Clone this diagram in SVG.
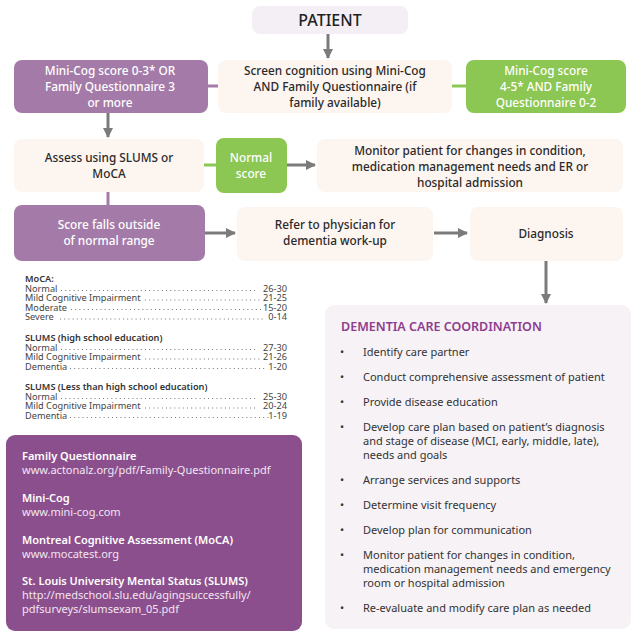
<svg xmlns="http://www.w3.org/2000/svg" width="635" height="634" viewBox="0 0 635 634">
<defs>
<marker id="ah" viewBox="0 0 10 10" refX="9" refY="5" markerWidth="3.4" markerHeight="3.4" orient="auto" markerUnits="strokeWidth">
<path d="M0,0 L10,5 L0,10 z" fill="#7b7b7b"/>
</marker>
<style>
text{font-family:"Noto Sans","DejaVu Sans",sans-serif;}
.cream{fill:#fdf5f0;}
.purple{fill:#a47ba8;}
.green{fill:#8cc653;}
.lav{fill:#f3eff5;}
.t{font-size:11.8px;fill:#2a2a2a;font-weight:500;text-anchor:middle;}
.w{font-size:11.8px;fill:#ffffff;font-weight:500;text-anchor:middle;}
.arr{stroke:#7b7b7b;stroke-width:3;fill:none;marker-end:url(#ah);}
.lp{stroke:#a47ba8;stroke-width:3;fill:none;}
.lg{stroke:#8cc653;stroke-width:3;fill:none;}
.tb{font-size:9.2px;fill:#444;}
.tbh{font-size:9.2px;fill:#333;font-weight:600;}
.tv{font-size:9.2px;fill:#444;text-anchor:end;}
.dots{stroke:#777;stroke-width:1;stroke-dasharray:1 3.2;}
.rh{font-size:11px;fill:#fff;font-weight:600;}
.ru{font-size:11px;fill:#f1e6f1;}
.li{font-size:11px;fill:#333;}
.bu{font-size:11px;fill:#333;}
</style>
</defs>
<rect width="635" height="634" fill="#ffffff"/>

<g id="connectors">
<line class="arr" x1="328" y1="34" x2="328" y2="58"/>
<line class="lp" x1="205" y1="86" x2="220" y2="86"/>
<line class="lg" x1="450" y1="86" x2="468" y2="86"/>
<line class="arr" x1="108" y1="112" x2="108" y2="137"/>
<line class="lg" x1="203" y1="165" x2="217" y2="165"/>
<line class="arr" x1="287" y1="165" x2="315" y2="165"/>
<line class="lp" x1="108" y1="192" x2="108" y2="207"/>
<line class="arr" x1="205" y1="233" x2="235" y2="233"/>
<line class="arr" x1="434" y1="233" x2="467" y2="233"/>
<line class="arr" x1="546" y1="260" x2="546" y2="303"/>
</g>

<g id="patient">
<rect class="lav" x="252" y="6" width="156" height="28" rx="8"/>
<text x="330" y="26" text-anchor="middle" font-size="16" font-weight="500" fill="#222">PATIENT</text>
</g>

<g id="minicog-low">
<rect class="purple" x="14" y="60" width="194" height="53" rx="8"/>
<text class="w" x="110" y="74.5">Mini-Cog score 0-3* OR</text>
<text class="w" x="110" y="90.5">Family Questionnaire 3</text>
<text class="w" x="110" y="106.5">or more</text>
</g>

<g id="screen">
<rect class="cream" x="218" y="60" width="234" height="53" rx="8"/>
<text class="t" x="335" y="74.5">Screen cognition using Mini-Cog</text>
<text class="t" x="335" y="90.5">AND Family Questionnaire (if</text>
<text class="t" x="335" y="106.5">family available)</text>
</g>

<g id="minicog-high">
<rect class="green" x="466" y="60" width="160" height="53" rx="8"/>
<text class="w" x="546" y="74.5">Mini-Cog score</text>
<text class="w" x="546" y="90.5">4-5* AND Family</text>
<text class="w" x="546" y="106.5">Questionnaire 0-2</text>
</g>

<g id="assess">
<rect class="cream" x="14" y="139" width="190" height="53" rx="8"/>
<text class="t" x="109" y="161.5">Assess using SLUMS or</text>
<text class="t" x="109" y="177.5">MoCA</text>
</g>

<g id="normal">
<rect class="green" x="216" y="138" width="71" height="55" rx="8"/>
<text class="w" x="251" y="161.5">Normal</text>
<text class="w" x="251" y="177.5">score</text>
</g>

<g id="monitor">
<rect class="cream" x="317" y="139" width="306" height="53" rx="8"/>
<text class="t" x="470" y="155">Monitor patient for changes in condition,</text>
<text class="t" x="470" y="171">medication management needs and ER or</text>
<text class="t" x="470" y="187">hospital admission</text>
</g>

<g id="outside">
<rect class="purple" x="14" y="205" width="191" height="56" rx="8"/>
<text class="w" x="109" y="229">Score falls outside</text>
<text class="w" x="109" y="245">of normal range</text>
</g>

<g id="refer">
<rect class="cream" x="237" y="207" width="196" height="54" rx="8"/>
<text class="t" x="335" y="229">Refer to physician for</text>
<text class="t" x="335" y="245">dementia work-up</text>
</g>

<g id="diagnosis">
<rect class="cream" x="470" y="207" width="153" height="54" rx="8"/>
<text class="t" x="546" y="238">Diagnosis</text>
</g>

<g id="scores">
<text class="tbh" x="25" y="282">MoCA:</text>
<text class="tb" x="25" y="291.5">Normal</text><line class="dots" x1="61" y1="290.5" x2="256" y2="290.5"/><text class="tv" x="287" y="291.5">26-30</text>
<text class="tb" x="25" y="301">Mild Cognitive Impairment</text><line class="dots" x1="145" y1="300" x2="261" y2="300"/><text class="tv" x="287" y="301">21-25</text>
<text class="tb" x="25" y="310.5">Moderate</text><line class="dots" x1="71" y1="309.5" x2="261" y2="309.5"/><text class="tv" x="287" y="310.5">15-20</text>
<text class="tb" x="25" y="320">Severe</text><line class="dots" x1="60" y1="319" x2="265" y2="319"/><text class="tv" x="287" y="320">0-14</text>

<text class="tbh" x="25" y="341">SLUMS (high school education)</text>
<text class="tb" x="25" y="350.5">Normal</text><line class="dots" x1="61" y1="349.5" x2="258" y2="349.5"/><text class="tv" x="287" y="350.5">27-30</text>
<text class="tb" x="25" y="360">Mild Cognitive Impairment</text><line class="dots" x1="145" y1="359" x2="260" y2="359"/><text class="tv" x="287" y="360">21-26</text>
<text class="tb" x="25" y="369.5">Dementia</text><line class="dots" x1="70" y1="368.5" x2="267" y2="368.5"/><text class="tv" x="287" y="369.5">1-20</text>

<text class="tbh" x="25" y="390">SLUMS (Less than high school education)</text>
<text class="tb" x="25" y="399.5">Normal</text><line class="dots" x1="61" y1="398.5" x2="258" y2="398.5"/><text class="tv" x="287" y="399.5">25-30</text>
<text class="tb" x="25" y="409">Mild Cognitive Impairment</text><line class="dots" x1="145" y1="408" x2="258" y2="408"/><text class="tv" x="287" y="409">20-24</text>
<text class="tb" x="25" y="418.5">Dementia</text><line class="dots" x1="70" y1="417.5" x2="269" y2="417.5"/><text class="tv" x="287" y="418.5">1-19</text>
</g>

<g id="resources">
<rect x="6" y="435" width="296" height="196" rx="9" fill="#8c4f8d"/>
<text class="rh" x="22" y="460">Family Questionnaire</text>
<text class="ru" x="22" y="474">www.actonalz.org/pdf/Family-Questionnaire.pdf</text>
<text class="rh" x="22" y="502">Mini-Cog</text>
<text class="ru" x="22" y="516">www.mini-cog.com</text>
<text class="rh" x="22" y="544">Montreal Cognitive Assessment (MoCA)</text>
<text class="ru" x="22" y="558">www.mocatest.org</text>
<text class="rh" x="22" y="585">St. Louis University Mental Status (SLUMS)</text>
<text class="ru" x="22" y="599">http://medschool.slu.edu/agingsuccessfully/</text>
<text class="ru" x="22" y="613">pdfsurveys/slumsexam_05.pdf</text>
</g>

<g id="dementia-care">
<rect x="325" y="305" width="306" height="324" rx="9" fill="#f6f2f6"/>
<text x="341" y="331" font-size="12.5" font-weight="600" fill="#8e3c8e">DEMENTIA CARE COORDINATION</text>
<g class="bu">
<text x="340" y="356">•</text>
<text x="340" y="381">•</text>
<text x="340" y="406">•</text>
<text x="340" y="431">•</text>
<text x="340" y="484">•</text>
<text x="340" y="509">•</text>
<text x="340" y="534">•</text>
<text x="340" y="559">•</text>
<text x="340" y="612">•</text>
</g>
<text class="li" x="363" y="356">Identify care partner</text>
<text class="li" x="363" y="381">Conduct comprehensive assessment of patient</text>
<text class="li" x="363" y="406">Provide disease education</text>
<text class="li" x="363" y="431">Develop care plan based on patient’s diagnosis</text>
<text class="li" x="363" y="445">and stage of disease (MCI, early, middle, late),</text>
<text class="li" x="363" y="459">needs and goals</text>
<text class="li" x="363" y="484">Arrange services and supports</text>
<text class="li" x="363" y="509">Determine visit frequency</text>
<text class="li" x="363" y="534">Develop plan for communication</text>
<text class="li" x="363" y="559">Monitor patient for changes in condition,</text>
<text class="li" x="363" y="573">medication management needs and emergency</text>
<text class="li" x="363" y="587">room or hospital admission</text>
<text class="li" x="363" y="612">Re-evaluate and modify care plan as needed</text>
</g>
</svg>
